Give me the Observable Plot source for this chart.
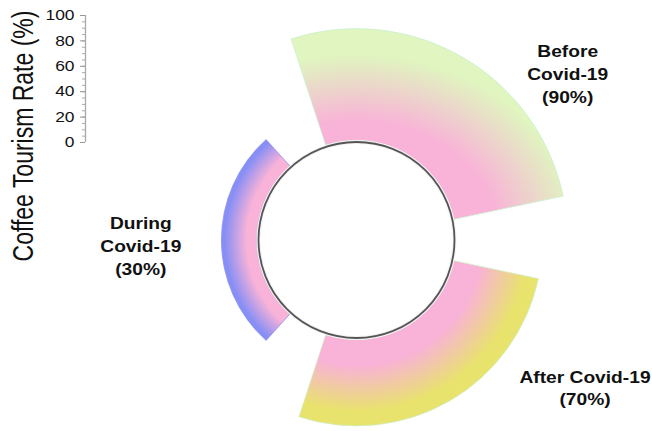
<!DOCTYPE html>
<html>
<head>
<meta charset="utf-8">
<script src="https://cdn.jsdelivr.net/npm/d3@7"></script>
<script src="https://cdn.jsdelivr.net/npm/@observablehq/plot@0.6"></script>
<style>
html, body { margin: 0; padding: 0; background: #fff; }
</style>
</head>
<body>
<div id="chart"></div>
<script>
// ---- data ----
const periods = ["Before Covid-19", "After Covid-19", "During Covid-19"];
const periodLabels = [["Before", "Covid-19"], ["After Covid-19"], ["During", "Covid-19"]];
const rates = [90, 70, 30];
const tickValues = [0, 20, 40, 60, 80, 100];
const minorTickValues = [0, 5, 10, 15, 20, 25, 30, 35, 40, 45, 50, 55, 60, 65, 70, 75, 80, 85, 90, 95, 100];
const axisTitle = "Coffee Tourism Rate (%)";

// ---- styles / layout ----
const pink = "#f9b2d8";
const outerColors = ["#e0f5bf", "#e8e36c", "#878ef5"];
const edgeColors = ["#c6f0cc", "#cfeec0", "#8a90f5"];
// gradient shape per wedge: [horizontal stretch, extent, pink until, colour from] (pixels)
const gradShape = [[1.2, 220, 118, 185], [1.0, 200, 125, 172], [1.0, 140, 110, 132]];
const cx = 356.5, cy = 240;          // centre of the radial layout
const circleR = 98, rInner = 99.5, rBase = 97;
const labelOffsets = [[211.2, -189], [228.5, 136.7], [-215.7, -16.7]]; // first-line centre, relative to centre
const lineGap = 23;

function radialBars() {
  const sc = [...arguments].find(a => a && typeof a.y === "function");
  const y = sc.y;
  const r = v => rBase + (y(0) - y(v));   // radial length follows the y scale
  const g = d3.create("svg:g").attr("class", "radial-bars");
  const defs = g.append("defs");
  const wedges = g.append("g").attr("transform", `translate(${cx},${cy})`);
  periods.forEach((p, i) => {
    const outer = r(rates[i]);
    const [sx, R, p1, p2] = gradShape[i];
    const grad = defs.append("radialGradient")
      .attr("id", `wedge-grad-${i}`)
      .attr("gradientUnits", "userSpaceOnUse")
      .attr("gradientTransform", `scale(${sx},1)`)
      .attr("cx", 0).attr("cy", 0).attr("r", R);
    [[0, pink], [p1 / R, pink], [p2 / R, outerColors[i]], [1, outerColors[i]]]
      .forEach(([o, c]) => grad.append("stop").attr("offset", o).attr("stop-color", c));
    const mid = (30 + 120 * i) * Math.PI / 180, half = 48 * Math.PI / 180;
    wedges.append("path")
      .attr("d", d3.arc()({innerRadius: rInner, outerRadius: outer, startAngle: mid - half, endAngle: mid + half}))
      .attr("fill", `url(#wedge-grad-${i})`)
      .attr("stroke", edgeColors[i])
      .attr("stroke-width", 0.8);
  });
  g.append("circle").attr("cx", cx).attr("cy", cy).attr("r", circleR)
    .attr("fill", "#fff").attr("stroke", "#f4f4f4").attr("stroke-width", 4);
  g.append("circle").attr("cx", cx).attr("cy", cy).attr("r", circleR)
    .attr("fill", "none").attr("stroke", "#555").attr("stroke-width", 1.8);

  periods.forEach((p, i) => {
    const lines = [...periodLabels[i], `(${rates[i]}%)`];
    const [dx, dy] = labelOffsets[i];
    const t = g.append("text")
      .attr("transform", `translate(${cx + dx},${cy + dy + 5.8}) scale(1.2,1)`)
      .attr("text-anchor", "middle")
      .attr("font-size", 16)
      .attr("font-weight", "bold")
      .attr("fill", "#111");
    lines.forEach((l, k) => t.append("tspan").attr("x", 0).attr("dy", k === 0 ? 0 : lineGap).text(l));
  });

  g.append("text")
    .attr("transform", `translate(33,136) scale(1.25,1) rotate(-90)`)
    .attr("text-anchor", "middle")
    .attr("font-size", 23)
    .attr("fill", "#111")
    .text(axisTitle);
  return g.node();
}

const chart = Plot.plot({
  width: 652,
  height: 431,
  marginLeft: 85,
  marginTop: 15,
  marginBottom: 289,
  marginRight: 0,
  style: {fontFamily: "'Liberation Sans', Arial, sans-serif", background: "#fff"},
  x: {domain: [0, 1], axis: null},
  y: {domain: [0, 100]},
  marks: [
    radialBars,
    Plot.ruleX([0], {stroke: "#aaa", strokeWidth: 1.3}),
    Plot.axisY(minorTickValues, {tickSize: 3, tickFormat: () => "", label: null, stroke: "#aaa"}),
    Plot.axisY(tickValues, {tickSize: 5, tickPadding: 6, label: null, stroke: "#999", fill: "#111"})
  ]
});

// enlarge and widen the y tick labels
const tickStrings = new Set(tickValues.map(String));
d3.select(chart).selectAll("text").each(function () {
  if (this.closest(".radial-bars")) return;
  if (!tickStrings.has(this.textContent.trim())) return;
  this.style.fontSize = "14.5px";
  const t = this.getAttribute("transform");
  if (t) {
    this.setAttribute("transform", t + " scale(1.2,1)");
  } else {
    const x = +(this.getAttribute("x") || 0), yy = +(this.getAttribute("y") || 0);
    this.setAttribute("x", 0); this.setAttribute("y", 0);
    this.setAttribute("transform", `translate(${x},${yy}) scale(1.2,1)`);
  }
});

document.getElementById("chart").appendChild(chart);
</script>
</body>
</html>
